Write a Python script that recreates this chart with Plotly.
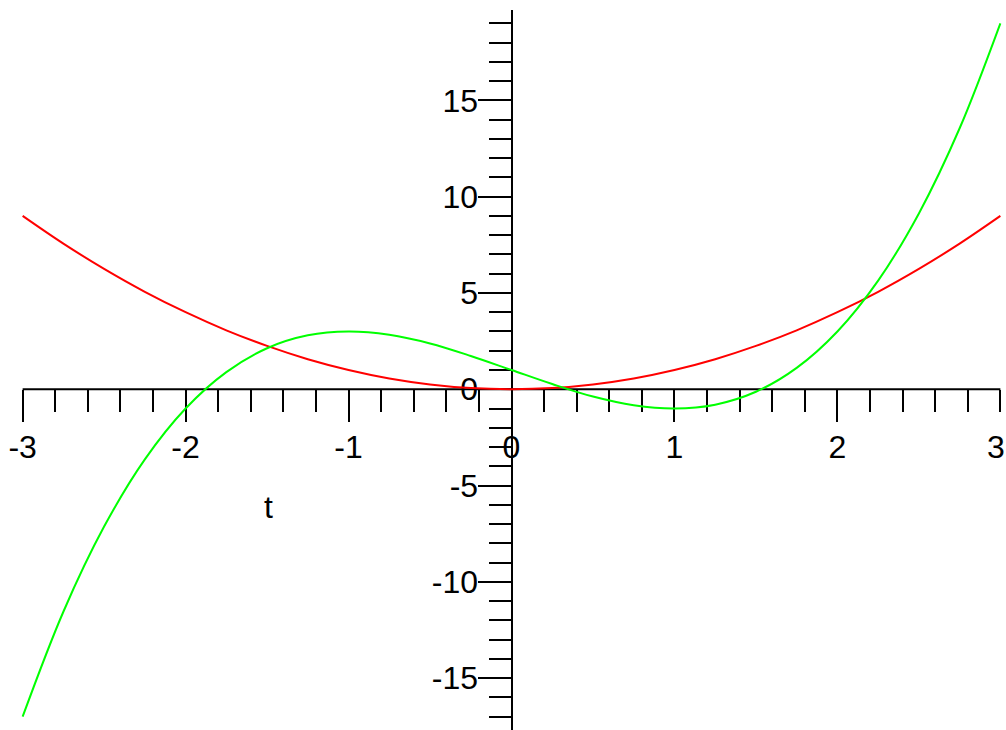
import plotly.graph_objects as go

T = [-3.0, -2.75, -2.5, -2.25, -2.0, -1.75, -1.5, -1.25, -1.0, -0.75, -0.5, -0.25,
     0.0, 0.25, 0.5, 0.75, 1.0, 1.25, 1.5, 1.75, 2.0, 2.25, 2.5, 2.75, 3.0]
RED_Y = [9.0, 7.56, 6.25, 5.06, 4.0, 3.06, 2.25, 1.56, 1.0, 0.56, 0.25, 0.06,
         0.0, 0.06, 0.25, 0.56, 1.0, 1.56, 2.25, 3.06, 4.0, 5.06, 6.25, 7.56, 9.0]
GREEN_Y = [-17.0, -11.55, -7.13, -3.64, -1.0, 0.89, 2.13, 2.8, 3.0, 2.83, 2.38, 1.73,
           1.0, 0.27, -0.38, -0.83, -1.0, -0.8, -0.13, 1.11, 3.0, 5.64, 9.13, 13.55, 19.0]

X_TICKS = [-3, -2, -1, 0, 1, 2, 3]
X_TICK_LABELS = ["-3", "-2", "-1", "0", "1", "2", "3"]
Y_TICKS = [-15, -10, -5, 0, 5, 10, 15]
Y_TICK_LABELS = ["-15", "-10", "-5", "0", "5", "10", "15"]

# small padding so the end ticks at +/-3 are kept
X_RANGE = [-3.01, 3.01]
Y_RANGE = [-17.69, 19.69]

FONT = "Liberation Sans, Arial, sans-serif"

fig = go.Figure()

fig.add_trace(
    go.Scatter(
        x=T,
        y=RED_Y,
        mode="lines",
        line=dict(color="#FF0000", width=2, shape="spline", smoothing=1),
    ),
)

fig.add_trace(
    go.Scatter(
        x=T,
        y=GREEN_Y,
        mode="lines",
        line=dict(color="#00FF00", width=2, shape="spline", smoothing=1),
    ),
)

# axes cross at the origin
x_pos = (0 - Y_RANGE[0]) / (Y_RANGE[1] - Y_RANGE[0])
y_pos = (0 - X_RANGE[0]) / (X_RANGE[1] - X_RANGE[0])

fig.update_layout(
    width=1006,
    height=730,
    showlegend=False,
    plot_bgcolor="white",
    paper_bgcolor="white",
    font=dict(family=FONT, size=32, color="black"),
    margin=dict(l=21, r=4, t=10, b=0),
    xaxis=dict(
        range=X_RANGE,
        anchor="free",
        position=x_pos,
        showgrid=False,
        zeroline=False,
        showline=False,
        ticks="outside",
        ticklen=32,
        tickwidth=2,
        tickcolor="black",
        tickvals=X_TICKS,
        # last label is drawn as an annotation so it stays inside the window
        ticktext=X_TICK_LABELS[:-1] + [""],
        ticklabelstandoff=-3,
        ticklabeloverflow="allow",
        minor=dict(
            tickvals=[round(-3 + 0.2 * i, 1) for i in range(31)],
            ticks="outside", ticklen=22, tickwidth=2, tickcolor="black", showgrid=False,
        ),
        automargin=False,
        layer="below traces",
    ),
    yaxis=dict(
        range=Y_RANGE,
        anchor="free",
        position=y_pos,
        showgrid=False,
        zeroline=False,
        showline=True,
        linecolor="black",
        linewidth=2,
        ticks="outside",
        ticklen=33,
        tickwidth=2,
        tickcolor="black",
        tickvals=Y_TICKS,
        ticktext=Y_TICK_LABELS,
        ticklabelstandoff=-7,
        ticklabeloverflow="allow",
        minor=dict(dtick=1, ticks="outside", ticklen=22, tickwidth=2, tickcolor="black", showgrid=False),
        automargin=False,
        layer="below traces",
    ),
    # x axis line only from -3 to 3
    shapes=[
        dict(type="line", xref="x", yref="y", x0=X_TICKS[0], x1=X_TICKS[-1], y0=0, y1=0,
             line=dict(color="black", width=2), layer="below"),
    ],
    annotations=[
        dict(x=-1.49, y=-6.1, text="t", showarrow=False, font=dict(size=32)),
        dict(x=X_TICKS[-1], y=-3.0, text=X_TICK_LABELS[-1], showarrow=False,
             xanchor="right", yanchor="middle", xshift=6, borderpad=0, font=dict(size=32)),
    ],
)

# drop the default page margin so the figure sits at the window's corner
fig.write_html(
    "out.html",
    config=dict(displayModeBar=False),
    post_script="document.body.style.margin='0';",
)
